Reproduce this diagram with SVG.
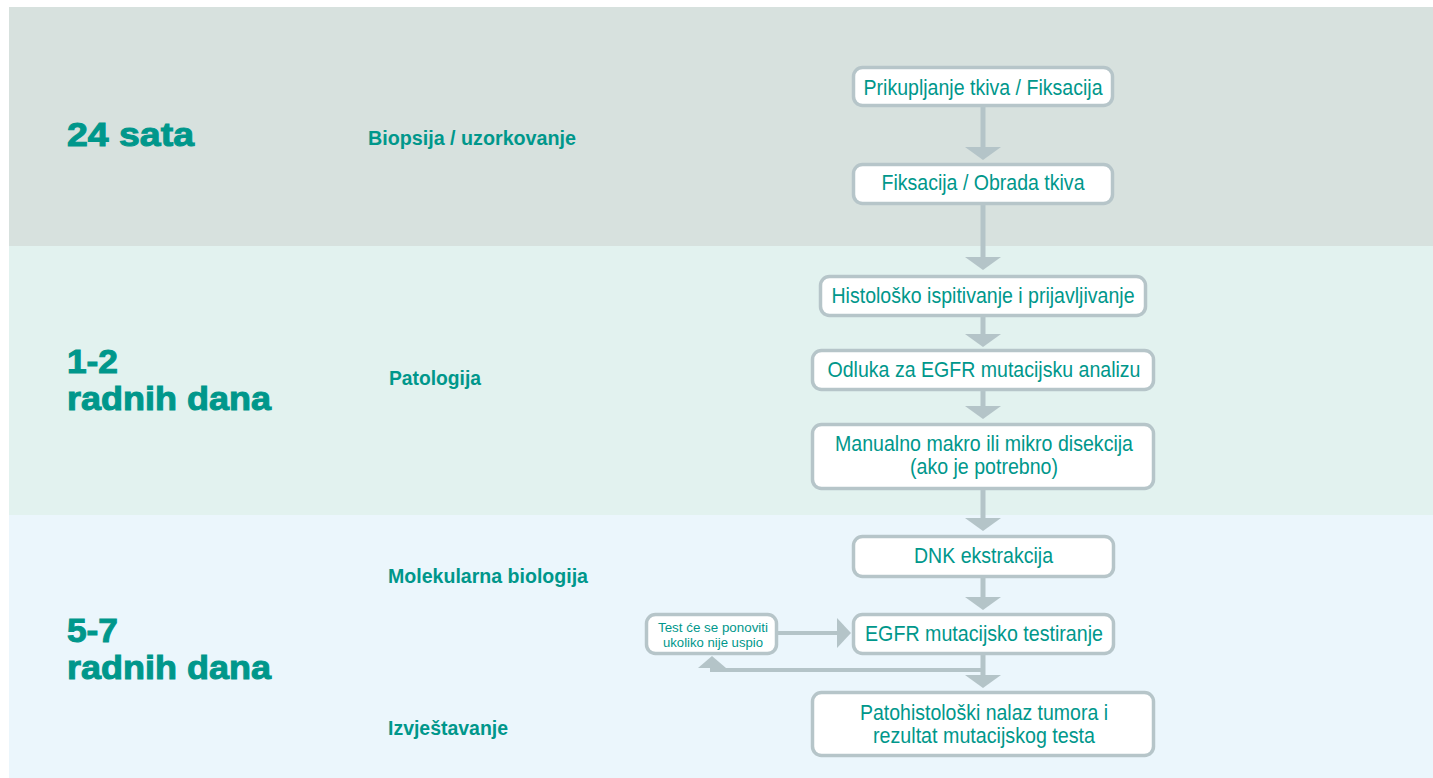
<svg xmlns="http://www.w3.org/2000/svg" width="1433" height="778" viewBox="0 0 1433 778">
<defs>
<style>
.band1{fill:#d7e1de}
.band2{fill:#e2f2ef}
.band3{fill:#ebf6fc}
.big{font-family:"Liberation Sans",Arial,sans-serif;font-weight:bold;font-size:33px;fill:#00978b;stroke:#00978b;stroke-width:1px}
.stage{font-family:"Liberation Sans",Arial,sans-serif;font-weight:bold;font-size:20px;fill:#00978b}
.box rect{fill:#ffffff;stroke:#b6c5c9;stroke-width:3.5}
.box text{font-family:"Liberation Sans",Arial,sans-serif;font-size:22px;fill:#00978b;text-anchor:middle}
.box text.small{font-size:13.5px}
.line{stroke:#b4c4c8;fill:none}
.head{fill:#b4c4c8}
</style>
</defs>
<rect class="band1" x="9" y="7" width="1424" height="239"/>
<rect class="band2" x="9" y="246" width="1424" height="269"/>
<rect class="band3" x="9" y="515" width="1424" height="263"/>

<g id="labels">
<text class="big" x="67" y="146" textLength="127" lengthAdjust="spacingAndGlyphs">24 sata</text>
<text class="big" x="67" y="373" textLength="51" lengthAdjust="spacingAndGlyphs">1-2</text>
<text class="big" x="67" y="410" textLength="204" lengthAdjust="spacingAndGlyphs">radnih dana</text>
<text class="big" x="67" y="642" textLength="51" lengthAdjust="spacingAndGlyphs">5-7</text>
<text class="big" x="67" y="679" textLength="204" lengthAdjust="spacingAndGlyphs">radnih dana</text>
<text class="stage" x="368" y="145" textLength="208" lengthAdjust="spacingAndGlyphs">Biopsija / uzorkovanje</text>
<text class="stage" x="389" y="385" textLength="92" lengthAdjust="spacingAndGlyphs">Patologija</text>
<text class="stage" x="388" y="583" textLength="200" lengthAdjust="spacingAndGlyphs">Molekularna biologija</text>
<text class="stage" x="388" y="735" textLength="120" lengthAdjust="spacingAndGlyphs">Izvještavanje</text>
</g>

<g id="connectors">
<line class="line" stroke-width="5" x1="983" y1="107" x2="983" y2="149"/>
<polygon class="head" points="965,147 1001,147 983,160"/>
<line class="line" stroke-width="5" x1="983" y1="205" x2="983" y2="259"/>
<polygon class="head" points="965,257 1001,257 983,270"/>
<line class="line" stroke-width="5" x1="983" y1="317" x2="983" y2="336"/>
<polygon class="head" points="965,334 1001,334 983,347"/>
<line class="line" stroke-width="5" x1="983" y1="391" x2="983" y2="408"/>
<polygon class="head" points="965,406 1001,406 983,419"/>
<line class="line" stroke-width="5" x1="983" y1="490" x2="983" y2="520"/>
<polygon class="head" points="965,518 1001,518 983,531"/>
<line class="line" stroke-width="5" x1="983" y1="578" x2="983" y2="599"/>
<polygon class="head" points="965,597 1001,597 983,610"/>
<line class="line" stroke-width="5" x1="983" y1="655" x2="983" y2="677"/>
<polygon class="head" points="965,675 1001,675 983,688"/>
<line class="line" stroke-width="4" x1="983" y1="670" x2="710" y2="670"/>
<polygon class="head" points="698,668 726,668 712,656"/>
<line class="line" stroke-width="4" x1="778" y1="633" x2="838" y2="633"/>
<polygon class="head" points="837,618 837,648 851,633"/>
</g>

<g id="n1" class="box"><rect x="853.5" y="67.5" width="259" height="38" rx="9"/><text x="983" y="95" textLength="239" lengthAdjust="spacingAndGlyphs">Prikupljanje tkiva / Fiksacija</text></g>
<g id="n2" class="box"><rect x="853.5" y="164.5" width="259" height="39" rx="9"/><text x="983" y="190" textLength="203" lengthAdjust="spacingAndGlyphs">Fiksacija / Obrada tkiva</text></g>
<g id="n3" class="box"><rect x="820.5" y="276.5" width="325" height="39" rx="9"/><text x="983" y="303" textLength="303" lengthAdjust="spacingAndGlyphs">Histološko ispitivanje i prijavljivanje</text></g>
<g id="n4" class="box"><rect x="812.5" y="350.5" width="341" height="39" rx="9"/><text x="984" y="377" textLength="313" lengthAdjust="spacingAndGlyphs">Odluka za EGFR mutacijsku analizu</text></g>
<g id="n5" class="box"><rect x="812.5" y="424.5" width="341" height="64" rx="9"/><text x="984" y="451" textLength="298" lengthAdjust="spacingAndGlyphs">Manualno makro ili mikro disekcija</text><text x="984" y="474" textLength="148" lengthAdjust="spacingAndGlyphs">(ako je potrebno)</text></g>
<g id="n6" class="box"><rect x="853.5" y="536.5" width="260" height="40" rx="9"/><text x="983.5" y="563" textLength="139" lengthAdjust="spacingAndGlyphs">DNK ekstrakcija</text></g>
<g id="n7" class="box"><rect x="853.5" y="614.5" width="260" height="39" rx="9"/><text x="984" y="641" textLength="238" lengthAdjust="spacingAndGlyphs">EGFR mutacijsko testiranje</text></g>
<g id="n8" class="box"><rect x="812.5" y="692.5" width="341" height="63" rx="9"/><text x="984" y="720" textLength="248" lengthAdjust="spacingAndGlyphs">Patohistološki nalaz tumora i</text><text x="984" y="743" textLength="222" lengthAdjust="spacingAndGlyphs">rezultat mutacijskog testa</text></g>
<g id="n9" class="box"><rect x="646.5" y="614.5" width="130" height="39" rx="9"/><text class="small" x="713" y="632" textLength="110" lengthAdjust="spacingAndGlyphs">Test će se ponoviti</text><text class="small" x="713" y="647" textLength="100" lengthAdjust="spacingAndGlyphs">ukoliko nije uspio</text></g>
</svg>
